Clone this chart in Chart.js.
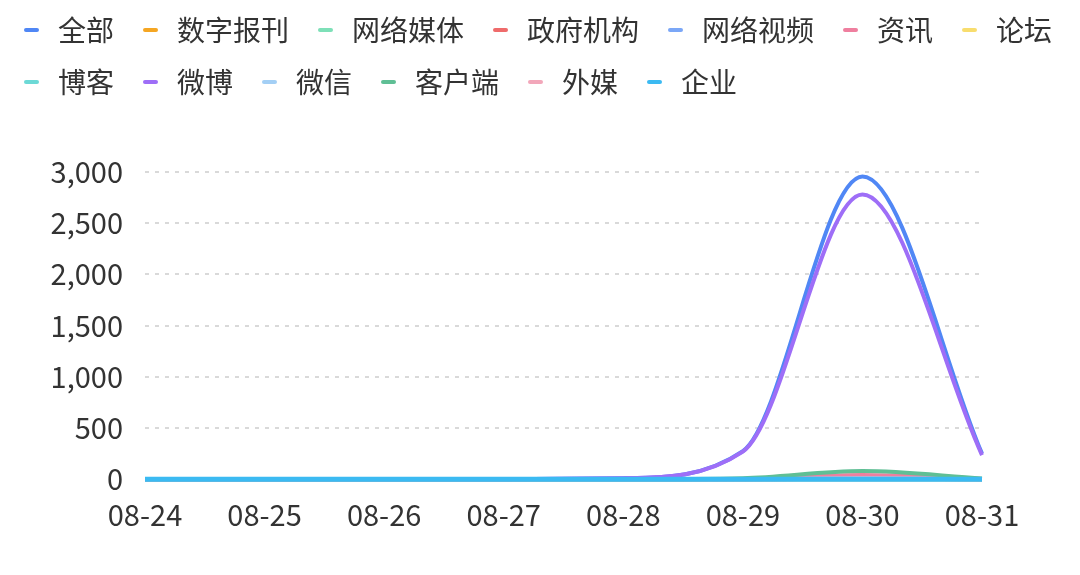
<!DOCTYPE html>
<html>
<head>
<meta charset="utf-8">
<script src="https://cdn.jsdelivr.net/npm/chart.js@4.4.0/dist/chart.umd.min.js"></script>
<style>
  html, body { margin: 0; padding: 0; background: #fff; }
  #wrap { width: 1080px; height: 575px; }
</style>
</head>
<body>
<div id="wrap"><canvas id="lineChart"></canvas></div>
<script>
var dates = ['08-24', '08-25', '08-26', '08-27', '08-28', '08-29', '08-30', '08-31'];

var names = ['全部', '数字报刊', '网络媒体', '政府机构', '网络视频', '资讯', '论坛',
             '博客', '微博', '微信', '客户端', '外媒', '企业'];

var colors = ['#5087f5', '#f5a623', '#7ee0b8', '#ef6b6b', '#7ba7f7', '#ef7f9f', '#f8dd6e',
              '#6cd9d6', '#9e6ef7', '#a3cff5', '#5fbf95', '#f2a7ba', '#3bbaf2'];

var allValues      = [0, 0, 0, 0, 10, 275, 2955, 250];
var paperValues    = [0, 0, 0, 0, 0, 0, 0, 0];
var webMediaValues = [0, 0, 0, 0, 0, 1, 6, 1];
var govValues      = [0, 0, 0, 0, 0, 0, 2, 0];
var videoValues    = [0, 0, 0, 0, 0, 0, 3, 0];
var newsValues     = [0, 0, 0, 0, 0, 3, 40, 3];
var forumValues    = [0, 0, 0, 0, 0, 0, 2, 0];
var blogValues     = [0, 0, 0, 0, 0, 0, 0, 0];
var weiboValues    = [0, 0, 0, 0, 10, 270, 2780, 235];
var wechatValues   = [0, 0, 0, 0, 0, 1, 10, 2];
var appValues      = [0, 0, 0, 0, 0, 10, 80, 8];
var foreignValues  = [0, 0, 0, 0, 0, 0, 4, 0];
var companyValues  = [0, 0, 0, 0, 0, 0, 0, 0];

var series = [allValues, paperValues, webMediaValues, govValues, videoValues, newsValues, forumValues,
              blogValues, weiboValues, wechatValues, appValues, foreignValues, companyValues];

var yTicks = [0, 500, 1000, 1500, 2000, 2500, 3000];

var font = '"Noto Sans CJK SC", "Noto Sans", sans-serif';

// short rounded dash used as the legend marker
function makeMarker(color) {
    var c = document.createElement('canvas');
    c.width = 15;
    c.height = 4;
    var g = c.getContext('2d');
    g.fillStyle = color;
    g.beginPath();
    g.roundRect(0, 0, 15, 4, 2);
    g.fill();
    return c;
}

var datasets = series.map(function (vals, i) {
    return {
        label: names[i],
        data: vals,
        borderColor: colors[i],
        backgroundColor: colors[i],
        borderWidth: i === series.length - 1 ? 5 : 4,
        pointRadius: 0,
        pointHoverRadius: 0,
        pointStyle: makeMarker(colors[i]),
        cubicInterpolationMode: 'monotone',
        fill: false,
        clip: false,
        order: series.length - 1 - i
    };
});

// push the plot down below the legend
var legendGap = {
    id: 'legendGap',
    beforeInit: function (chart) {
        var fit = chart.legend.fit;
        chart.legend.fit = function () {
            fit.call(this);
            this.height += 66;
        };
    }
};

var ctx = document.getElementById('lineChart').getContext('2d');

var myChart = new Chart(ctx, {
    type: 'line',
    data: {
        labels: dates,
        datasets: datasets
    },
    plugins: [legendGap],
    options: {
        responsive: true,
        maintainAspectRatio: false,
        animation: false,
        layout: {
            padding: { top: -8, left: -5, right: -40, bottom: 25 }
        },
        plugins: {
            tooltip: { enabled: false },
            legend: {
                position: 'top',
                align: 'start',
                labels: {
                    usePointStyle: true,
                    pointStyleWidth: 25,
                    boxHeight: 10,
                    padding: 24,
                    color: '#333',
                    font: { family: font, size: 28 },
                    sort: function (a, b) { return a.datasetIndex - b.datasetIndex; }
                }
            }
        },
        scales: {
            x: {
                grid: { display: false, drawTicks: false },
                border: { display: false },
                ticks: {
                    color: '#333',
                    padding: 18,
                    maxRotation: 0,
                    font: { family: font, size: 29 }
                }
            },
            y: {
                min: 0,
                max: 3000,
                afterFit: function (scale) { scale.width = 150; },
                afterBuildTicks: function (scale) {
                    scale.ticks = yTicks.map(function (v) { return { value: v }; });
                },
                grid: {
                    color: '#d9d9d9',
                    lineWidth: 2,
                    drawTicks: false
                },
                border: { display: false, dash: [4, 6] },
                ticks: {
                    color: '#333',
                    padding: 22,
                    font: { family: font, size: 29 },
                    callback: function (v) { return v.toLocaleString('en-US'); }
                }
            },
            yRight: {
                position: 'right',
                display: true,
                grid: { display: false },
                border: { display: false },
                ticks: { display: false },
                afterFit: function (scale) { scale.width = 138; }
            }
        }
    }
});
</script>
</body>
</html>
